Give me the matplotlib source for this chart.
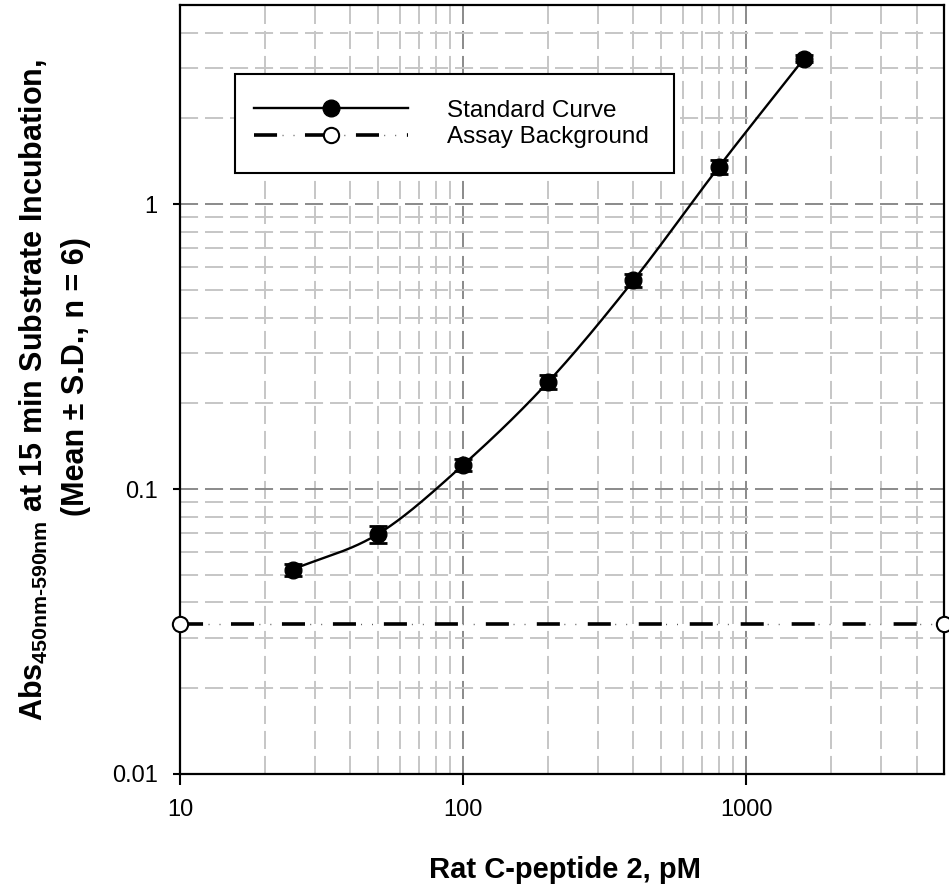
import numpy as np
import matplotlib
matplotlib.use("Agg")
import matplotlib.pyplot as plt
from matplotlib.ticker import LogLocator, NullFormatter
from matplotlib.patches import Rectangle
from matplotlib.legend_handler import HandlerTuple

plt.rcParams['font.family'] = ['Liberation Sans', 'DejaVu Sans']
plt.rcParams['mathtext.fontset'] = 'custom'
plt.rcParams['mathtext.rm'] = 'Liberation Sans:bold'
plt.rcParams['mathtext.default'] = 'rm'
plt.rcParams['lines.scale_dashes'] = False

# Data
conc = [25, 50, 100, 200, 400, 800, 1600]
absorb = [0.0522, 0.0695, 0.1215, 0.238, 0.54, 1.35, 3.24]
sd = [0.0025, 0.005, 0.006, 0.014, 0.029, 0.075, 0.09]
bg_x = [10, 5000]
bg_y = [0.0335, 0.0335]
x_ticks = [10, 100, 1000]
x_tick_labels = ["10", "100", "1000"]
y_ticks = [0.01, 0.1, 1]
y_tick_labels = ["0.01", "0.1", "1"]

W, H = 949, 892
fig = plt.figure(figsize=(W/100, H/100), dpi=100)
ax = fig.add_axes([180/W, 1-774/H, (944-180)/W, (774-5)/H])
ax.set_xscale('log')
ax.set_yscale('log')
ax.set_xlim(10, 5000)
ax.set_ylim(0.01, 5)

# grid
ax.xaxis.set_minor_locator(LogLocator(base=10, subs=np.arange(2, 10)))
ax.yaxis.set_minor_locator(LogLocator(base=10, subs=np.arange(2, 10)))
ax.xaxis.set_minor_formatter(NullFormatter())
ax.yaxis.set_minor_formatter(NullFormatter())
ax.grid(which='major', color='#8a8a8a', linewidth=1.4, linestyle=(0, (13, 5)))
ax.grid(which='minor', color='#c6c6c6', linewidth=1.4, linestyle=(0, (13, 5)))
ax.tick_params(which='minor', length=0)
ax.set_axisbelow(True)

# smooth curve (Catmull-Rom in log space)
lx = np.log10(conc)
ly = np.log10(absorb)
P = np.column_stack([lx, ly])
P_ext = np.vstack([2*P[0]-P[1], P, 2*P[-1]-P[-2]])
curve = []
for i in range(1, len(P_ext)-2):
    p0, p1, p2, p3 = P_ext[i-1], P_ext[i], P_ext[i+1], P_ext[i+2]
    t = np.linspace(0, 1, 40)[:, None]
    seg = 0.5*((2*p1) + (-p0+p2)*t + (2*p0-5*p1+4*p2-p3)*t**2 + (-p0+3*p1-3*p2+p3)*t**3)
    curve.append(seg)
curve = np.vstack(curve)
ax.plot(10**curve[:, 0], 10**curve[:, 1], color='black', lw=1.7, zorder=3)

ax.plot(conc, absorb, 'o', color='black', ms=12, zorder=4)
ax.errorbar(conc, absorb, yerr=sd, fmt='none', ecolor='black', elinewidth=1.5,
            capsize=6.5, capthick=2, zorder=5)

# assay background: thick dashes + thin dots
dash_style = (0, (16.6, 20.1))
dot_style = (16.4, (0.7, 7.2, 0.7, 28.0))
ax.plot(bg_x, bg_y, color='black', lw=2.6, linestyle=dash_style, zorder=3)
ax.plot(bg_x, bg_y, color='#555555', lw=1.0, linestyle=dot_style, zorder=3)
ax.plot(bg_x, bg_y, 'o', mfc='white', mec='black', mew=1.5, ms=11, clip_on=False, zorder=6)

# legend handles
h1, = ax.plot([], [], color='black', lw=1.7, marker='o', ms=12)
hd, = ax.plot([], [], color='black', lw=2.6, linestyle=dash_style)
ht, = ax.plot([], [], color='#555555', lw=1.0, linestyle=dot_style)
hm, = ax.plot([], [], 'o', mfc='white', mec='black', mew=1.5, ms=11)
leg = fig.legend(handles=[h1, (hd, ht, hm)], labels=['Standard Curve', 'Assay Background'],
                 handler_map={tuple: HandlerTuple(ndivide=1)},
                 loc='center left', bbox_to_anchor=(254/W, 1-124/H), bbox_transform=fig.transFigure,
                 fontsize=17.5, frameon=False, handlelength=154/24.3, handletextpad=39/24.3,
                 borderpad=0, labelspacing=0.2, borderaxespad=0, numpoints=1)
fig.add_artist(Rectangle((235/W, 1-173/H), (674-235)/W, (173-74)/H, transform=fig.transFigure,
                         facecolor='white', edgecolor='black', lw=1.5, zorder=2))
leg.set_zorder(3)

ax.set_xticks(x_ticks)
ax.set_xticklabels(x_tick_labels)
ax.set_yticks(y_ticks)
ax.set_yticklabels(y_tick_labels)
ax.tick_params(axis='x', which='major', direction='out', length=8, width=1.5, labelsize=17, pad=10)
ax.tick_params(axis='y', which='major', direction='out', length=5, width=1.5, labelsize=17, pad=11)

for s in ax.spines.values():
    s.set_linewidth(1.6)
    s.set_color('black')

fig.text(565/W, 1-878/H, 'Rat C-peptide 2, pM', fontsize=21, fontweight='bold',
         ha='center', va='baseline')
fig.text(43/W, 1-390/H, r'Abs$_{450nm\text{-}590nm}$ at 15 min Substrate Incubation,',
         rotation=90, rotation_mode='anchor', ha='center', va='baseline', fontsize=22, fontweight='bold')
fig.text(84/W, 1-377/H, '(Mean \u00b1 S.D., n = 6)',
         rotation=90, rotation_mode='anchor', ha='center', va='baseline', fontsize=22, fontweight='bold')

fig.savefig('out.png', dpi=100)
